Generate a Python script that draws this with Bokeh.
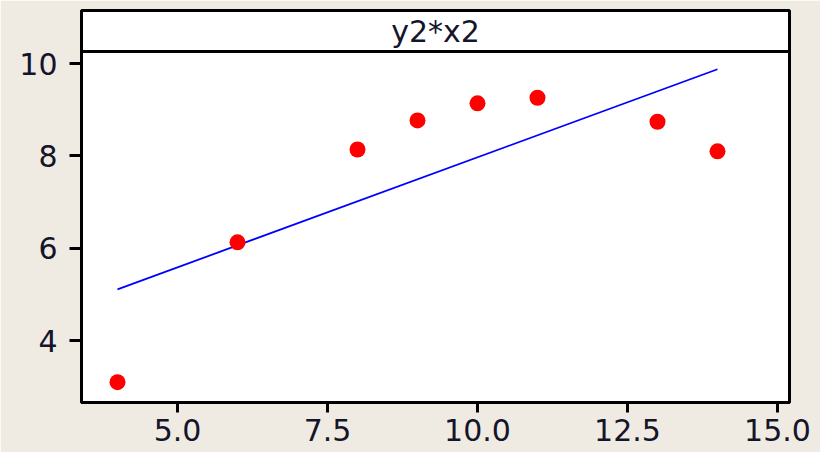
import numpy as np
from bokeh.plotting import figure
from bokeh.models import FixedTicker, Span, Label, Range1d
from bokeh.embed import file_html
from bokeh.resources import INLINE

title_text = "y2*x2"
x2 = [4, 6, 8, 9, 10, 11, 13, 14]
y2 = [3.10, 6.13, 8.14, 8.77, 9.14, 9.26, 8.74, 8.10]
x_ticks = [5.0, 7.5, 10.0, 12.5, 15.0]
y_ticks = [4, 6, 8, 10]

BG = "#EFEBE2"
FONT = "DejaVu Sans"
FS = "30px"
TXT = "#14142a"

x_start, x_end = 3.4, 15.2
y_start, strip_bottom, y_end = 2.66, 10.26, 11.15

p = figure(width=820, height=452, output_backend="svg", toolbar_location=None,
           x_range=Range1d(x_start, x_end), y_range=Range1d(y_start, y_end),
           min_border_left=81, min_border_top=10, min_border_right=31, min_border_bottom=50)
p.background_fill_color = "white"
p.border_fill_color = BG
p.outline_line_color = "black"
p.outline_line_width = 3
p.grid.visible = False

for ax, ticks, tout in ((p.xaxis[0], x_ticks, 10), (p.yaxis[0], y_ticks, 12)):
    ax.ticker = FixedTicker(ticks=ticks)
    ax.axis_line_color = "black"
    ax.axis_line_width = 3
    ax.major_tick_line_color = "black"
    ax.major_tick_line_width = 3
    ax.major_tick_out = tout
    ax.major_tick_in = 0
    ax.minor_tick_line_color = None
    ax.major_label_text_font = FONT
    ax.major_label_text_font_size = FS
    ax.major_label_text_color = TXT
p.xaxis[0].major_label_standoff = 6
p.yaxis[0].major_label_standoff = 12
p.xaxis[0].major_label_overrides = {t: f"{t:.1f}" for t in x_ticks}
p.yaxis[0].major_label_overrides = {t: str(t) for t in y_ticks}

# regression line fitted from data
slope, intercept = np.polyfit(np.array(x2, float), np.array(y2, float), 1)
xl = np.array([min(x2), max(x2)], float)
p.line(xl, intercept + slope * xl, line_color="#0000FF", line_width=1.8)

p.scatter(x2, y2, size=16, fill_color="#FF0000", line_color="#FF0000", line_width=0)

p.add_layout(Span(location=strip_bottom, dimension="width", line_color="black", line_width=3))
p.add_layout(Label(x=(x_start + x_end) / 2, y=(strip_bottom + y_end) / 2, text=title_text,
                   text_align="center", text_baseline="middle", text_font=FONT,
                   text_font_size=FS, text_color=TXT))

open("out.html", "w").write(file_html(p, INLINE))
